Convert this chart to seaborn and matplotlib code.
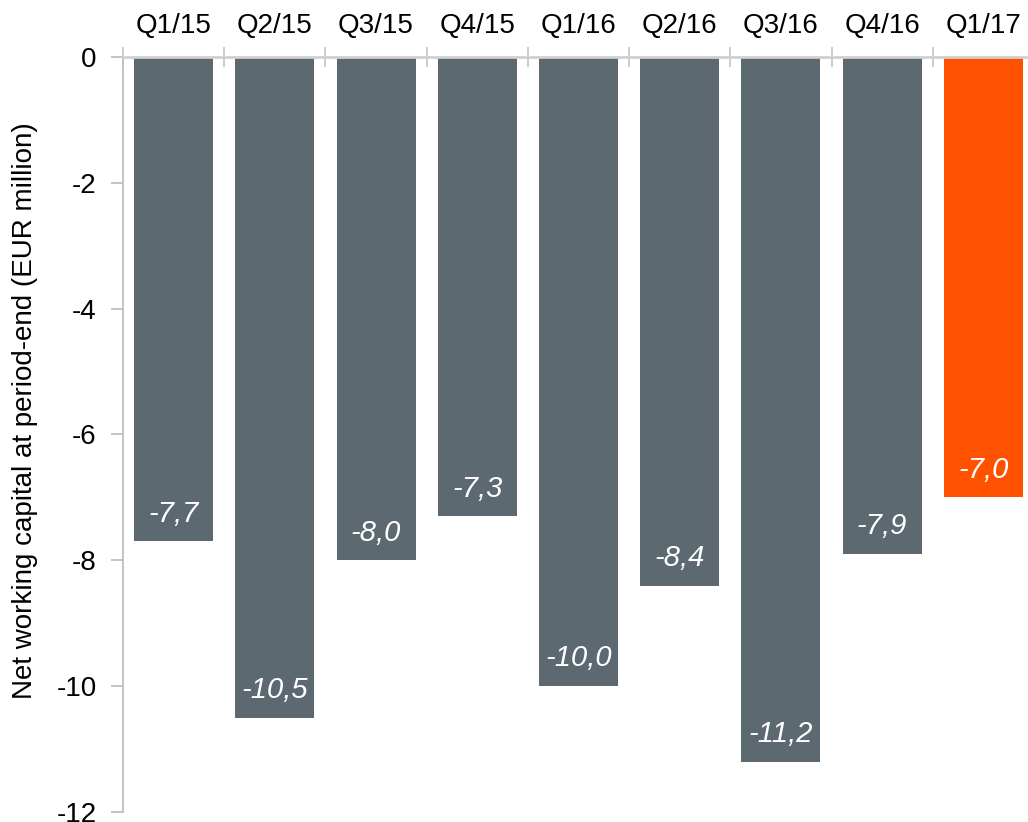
import matplotlib
matplotlib.use("Agg")
import matplotlib.pyplot as plt
import seaborn as sns
import numpy as np

quarters = ["Q1/15", "Q2/15", "Q3/15", "Q4/15", "Q1/16", "Q2/16", "Q3/16", "Q4/16", "Q1/17"]
nwc = [-7.7, -10.5, -8.0, -7.3, -10.0, -8.4, -11.2, -7.9, -7.0]
value_labels = ["-7,7", "-10,5", "-8,0", "-7,3", "-10,0", "-8,4", "-11,2", "-7,9", "-7,0"]
yticks = [0, -2, -4, -6, -8, -10, -12]

GREY = "#5d6970"
ORANGE = "#ff5200"
bar_colors = [GREY] * (len(quarters) - 1) + [ORANGE]

sns.set_style("white")
plt.rcParams["font.family"] = ["Liberation Sans", "DejaVu Sans"]
plt.rcParams["axes.unicode_minus"] = False
plt.rcParams["text.color"] = "black"
plt.rcParams["xtick.labelcolor"] = "black"
plt.rcParams["ytick.labelcolor"] = "black"
plt.rcParams["axes.labelcolor"] = "black"

fig = plt.figure(figsize=(10.28, 8.22), dpi=100)
ax = fig.add_axes([123 / 1028, 1 - 812 / 822, 911 / 1028, 755 / 822])

sns.barplot(x=quarters, y=nwc, hue=quarters, palette=bar_colors, width=0.78,
            legend=False, ax=ax, saturation=1, linewidth=0)

ax.set_ylim(-12, 0)
ax.set_xlim(-0.5, len(quarters) - 0.5)
ax.set_yticks(yticks)
ax.set_yticklabels([str(t) for t in yticks], fontsize=20)

# category labels on top, boundary ticks crossing the zero line
ax.xaxis.tick_top()
ax.set_xticks(range(len(quarters)))
ax.set_xticklabels(quarters, fontsize=20)
ax.tick_params(axis="x", which="major", length=0, pad=13)
ax.set_xticks(np.arange(-0.5, len(quarters), 1.0), minor=True)
ax.tick_params(axis="x", which="minor", direction="inout", length=14,
               color="#c8c8c8", width=1.3, top=True, bottom=False)
ax.tick_params(axis="y", direction="out", length=9, color="#bfbfbf", width=1.3,
               left=True, pad=10)

for side in ["right", "bottom"]:
    ax.spines[side].set_visible(False)
ax.spines["left"].set_color("#bfbfbf")
ax.spines["left"].set_linewidth(1.3)
ax.spines["top"].set_color("#d0d0d0")
ax.spines["top"].set_linewidth(2)

ax.set_xlabel("")
ax.set_ylabel("Net working capital at period-end (EUR million)", fontsize=20)
ax.yaxis.set_label_coords(-0.093, 0.532)

for i, (v, txt) in enumerate(zip(nwc, value_labels)):
    ax.annotate(txt, xy=(i, v), xytext=(0, 20), textcoords="offset points",
                ha="center", va="center", color="white", fontsize=21, style="italic")

fig.savefig("out.png", dpi=100)
